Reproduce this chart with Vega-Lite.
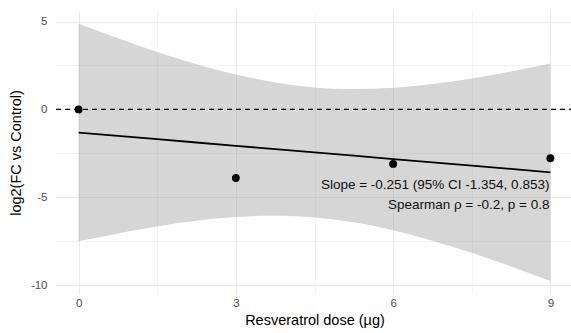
{
  "$schema": "https://vega.github.io/schema/vega-lite/v6.json",
  "autosize": "none",
  "width": 519,
  "height": 283,
  "padding": {"left": 55, "top": 11, "right": 0, "bottom": 39},
  "background": "white",
  "config": {
    "view": {"stroke": null},
    "font": "Liberation Sans",
    "axis": {
      "domain": false,
      "ticks": false,
      "labelFont": "Liberation Sans",
      "labelFontSize": 11.5,
      "labelColor": "#4D4D4D",
      "titleFont": "Liberation Sans",
      "titleFontSize": 14.5,
      "titleFontWeight": "normal",
      "titleColor": "#000000",
      "gridColor": "#EBEBEB"
    }
  },
  "datasets": {
    "points": [
      {"dose": 0, "log2fc": 0},
      {"dose": 3, "log2fc": -3.9},
      {"dose": 6, "log2fc": -3.1},
      {"dose": 9, "log2fc": -2.78}
    ],
    "band": [
      {"dose": 0, "fit": -1.316, "lo": -7.505, "hi": 4.873},
      {"dose": 0.75, "fit": -1.504, "lo": -7.052, "hi": 4.044},
      {"dose": 1.5, "fit": -1.693, "lo": -6.655, "hi": 3.269},
      {"dose": 2.25, "fit": -1.881, "lo": -6.335, "hi": 2.573},
      {"dose": 3, "fit": -2.069, "lo": -6.12, "hi": 1.982},
      {"dose": 3.75, "fit": -2.257, "lo": -6.047, "hi": 1.533},
      {"dose": 4.5, "fit": -2.445, "lo": -6.144, "hi": 1.254},
      {"dose": 5.25, "fit": -2.633, "lo": -6.423, "hi": 1.157},
      {"dose": 6, "fit": -2.822, "lo": -6.873, "hi": 1.229},
      {"dose": 6.75, "fit": -3.01, "lo": -7.464, "hi": 1.444},
      {"dose": 7.5, "fit": -3.198, "lo": -8.16, "hi": 1.764},
      {"dose": 8.25, "fit": -3.386, "lo": -8.934, "hi": 2.162},
      {"dose": 9, "fit": -3.575, "lo": -9.764, "hi": 2.614}
    ],
    "notes": [
      {"dose": 9, "y": -4.3, "label": "Slope = -0.251 (95% CI -1.354, 0.853)"},
      {"dose": 9, "y": -5.45, "label": "Spearman ρ = -0.2, p = 0.8"}
    ]
  },
  "encoding": {
    "x": {
      "field": "dose",
      "type": "quantitative",
      "scale": {"domain": [-0.45, 9.45], "nice": false, "zero": false},
      "axis": {
        "title": "Resveratrol dose (µg)",
        "values": [0, 1.5, 3, 4.5, 6, 7.5, 9],
        "labelExpr": "datum.value % 3 == 0 ? '' + datum.value : ''",
        "labelPadding": 3,
        "titlePadding": 5,
        "gridWidth": {"condition": {"test": "datum.value % 3 == 0", "value": 1}, "value": 0.6}
      }
    }
  },
  "layer": [
    {
      "data": {"name": "band"},
      "mark": {"type": "area", "color": "#999999", "opacity": 0.4, "interpolate": "monotone"},
      "encoding": {
        "y": {
          "field": "lo",
          "type": "quantitative",
          "scale": {"domain": [-10.5, 5.6], "nice": false, "zero": false},
          "axis": {
            "title": "log2(FC vs Control)",
            "values": [-10, -7.5, -5, -2.5, 0, 2.5, 5],
            "labelExpr": "datum.value % 5 == 0 ? '' + datum.value : ''",
            "labelPadding": 8,
            "titlePadding": 7,
            "gridWidth": {"condition": {"test": "datum.value % 5 == 0", "value": 1}, "value": 0.6}
          }
        },
        "y2": {"field": "hi"}
      }
    },
    {
      "data": {"values": [{}]},
      "mark": {"type": "rule", "color": "black", "strokeWidth": 1.2, "strokeDash": [5, 4]},
      "encoding": {"y": {"datum": 0, "type": "quantitative"}, "x": null}
    },
    {
      "data": {"name": "band"},
      "mark": {"type": "line", "color": "black", "strokeWidth": 1.8},
      "encoding": {"y": {"field": "fit", "type": "quantitative"}}
    },
    {
      "data": {"name": "points"},
      "mark": {"type": "point", "filled": true, "color": "black", "opacity": 1, "size": 62},
      "encoding": {"y": {"field": "log2fc", "type": "quantitative"}}
    },
    {
      "data": {"name": "notes"},
      "mark": {"type": "text", "align": "right", "baseline": "middle", "fontSize": 13.5, "color": "#111111", "dx": -1},
      "encoding": {
        "y": {"field": "y", "type": "quantitative"},
        "text": {"field": "label"}
      }
    }
  ]
}
